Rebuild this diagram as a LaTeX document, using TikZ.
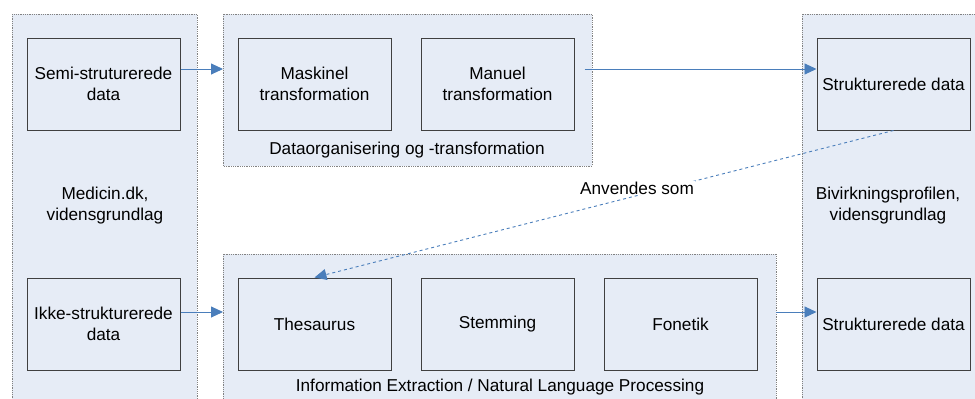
\documentclass[tikz,border=0pt]{standalone}
\usepackage{fontspec}
\setmainfont{Liberation Sans}
\usetikzlibrary{arrows.meta}
\definecolor{panelfill}{RGB}{230,236,246}
\definecolor{panelline}{RGB}{130,130,130}
\definecolor{boxline}{RGB}{64,64,64}
\definecolor{arrowblue}{RGB}{74,126,187}
\begin{document}
\begin{tikzpicture}[x=1pt,y=-1pt,
  panel/.style={draw=panelline,fill=panelfill,densely dotted,line width=0.8pt},
  itembox/.style={draw=boxline,fill=panelfill,line width=1pt,minimum width=153pt,minimum height=92pt,inner sep=0pt,align=center,font=\fontsize{17.2}{20.5}\selectfont},
  lbl/.style={align=center,font=\fontsize{17.2}{21}\selectfont,inner sep=1pt},
  conn/.style={draw=arrowblue,line width=0.9pt,-{Triangle[length=12pt,width=11pt]}},
  dconn/.style={conn,dashed}]
\useasboundingbox (0,0) rectangle (975,399);
\clip (0,0) rectangle (975,399);
% containers
\draw[panel] (12,14) rectangle (197,420);
\draw[panel] (802,14) rectangle (990,420);
\draw[panel] (223,14) rectangle (592,166);
\draw[panel] (223,254) rectangle (776,420);
\coordinate (topw) at (223,69);
\coordinate (botw) at (223,312);
\coordinate (bote) at (776,312);
% container labels
\node[lbl] (medicin) at (105,206) {Medicin.dk,\\vidensgrundlag};
\node[lbl] (bivirk) at (888,206) {Bivirkningsprofilen,\\vidensgrundlag};
\node[lbl] (dataorg) at (407,150) {Dataorganisering og -transformation};
\node[lbl] (ienlp) at (500,387) {Information Extraction / Natural Language Processing};
% boxes
\node[itembox] (semi) at (103.5,84) {Semi-struturerede\\data};
\node[itembox] (ikke) at (103.5,324) {Ikke-strukturerede\\data};
\node[itembox] (maskinel) at (314.5,84) {Maskinel\\transformation};
\node[itembox] (manuel) at (497.5,84) {Manuel\\transformation};
\node[itembox] (struktA) at (893.5,84) {Strukturerede data};
\node[itembox] (thes) at (314.5,324) {Thesaurus};
\node[itembox] (stem) at (497.5,324) {Stemming};
\node[itembox] (fon) at (680.5,324) {Fonetik};
\node[itembox] (struktB) at (893.5,324) {Strukturerede data};
% connectors
\draw[conn] ([yshift=15pt]semi.east) -- (topw);
\draw[conn] ([xshift=10pt,yshift=15pt]manuel.east) -- ([yshift=15pt]struktA.west);
\draw[conn] ([yshift=12pt]ikke.east) -- (botw);
\draw[conn] (bote) -- ([yshift=12pt]struktB.west);
\draw[dconn] (struktA.south) -- (thes.north);
\node[lbl,fill=white] (anv) at (637,188) {Anvendes som};
\end{tikzpicture}
\end{document}
